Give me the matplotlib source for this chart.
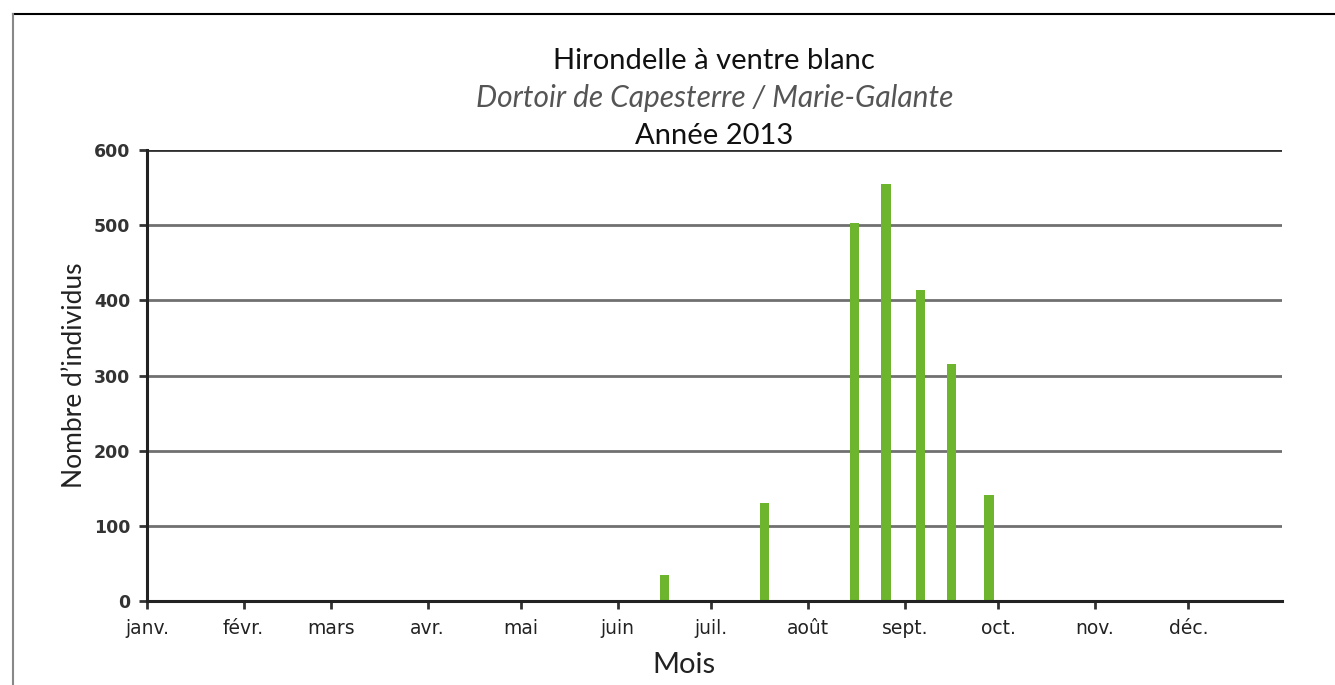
import matplotlib
matplotlib.use("Agg")
import matplotlib.pyplot as plt
import matplotlib.dates as mdates
import numpy as np

# comptages au dortoir (dates)
dates = ["2013-06-16", "2013-07-18", "2013-08-16", "2013-08-26",
         "2013-09-06", "2013-09-16", "2013-09-28"]
counts = [35, 131, 503, 555, 414, 315, 141]

months = ["janv.", "févr.", "mars", "avr.", "mai", "juin", "juil.",
          "août", "sept.", "oct.", "nov.", "déc."]

x = mdates.datestr2num(dates)
month_pos = mdates.datestr2num([f"2013-{m:02d}-01" for m in range(1, 13)])

fig = plt.figure(figsize=(13.35, 6.85), dpi=100)
ax = fig.add_axes([0.1101, 0.1226, 0.8502, 0.6584])

for v in [100, 200, 300, 400, 500]:
    ax.axhline(v, color="#707070", lw=2, zorder=1)
ax.axhline(600, color="#303030", lw=2, zorder=1)

ax.bar(x, counts, width=3.0, color="#6cb52d", zorder=2)

ax.set_xlim(mdates.datestr2num("2013-01-01"), mdates.datestr2num("2013-12-31"))
ax.set_ylim(0, 600)
ax.set_xticks(month_pos)
ax.set_xticklabels(months, fontsize=13.5, family="DejaVu Sans", color="#222222")
ax.set_yticks(np.arange(0, 601, 100))
ax.set_yticklabels([str(v) for v in range(0, 601, 100)], fontsize=12.5,
                   family="DejaVu Sans", fontweight="bold", color="#333333")
ax.tick_params(axis="both", direction="out", length=6, width=2, color="#333333")
ax.tick_params(axis="x", pad=7)
ax.tick_params(axis="y", pad=6)

for s in ["top", "right"]:
    ax.spines[s].set_visible(False)
for s in ["left", "bottom"]:
    ax.spines[s].set_linewidth(2.2)
    ax.spines[s].set_color("#222222")
    ax.spines[s].set_zorder(3)

fig.text(0.535, 0.911, "Hirondelle à ventre blanc", ha="center", va="center",
         fontsize=21, family="Lato", color="#111111")
fig.text(0.535, 0.857, "Dortoir de Capesterre / Marie-Galante", ha="center",
         va="center", fontsize=21.5, family="Lato", style="italic", color="#555555")
fig.text(0.535, 0.802, "Année 2013", ha="center", va="center",
         fontsize=21, family="Lato", color="#111111")
fig.text(0.056, 0.452, "Nombre d\u2019individus", rotation=90, ha="center",
         va="center", fontsize=19, family="Lato", color="#222222")
fig.text(0.512, 0.029, "Mois", ha="center", va="center", fontsize=21,
         family="Lato", color="#222222")

# cadre partiel autour de la figure
fig.add_artist(plt.Line2D([0.0097, 1.0], [0.98, 0.98], color="black", lw=1.5,
                          transform=fig.transFigure))
fig.add_artist(plt.Line2D([0.0097, 0.0097], [0.0, 0.98], color="#888888", lw=1.5,
                          transform=fig.transFigure))

fig.savefig("out.png", dpi=100)
